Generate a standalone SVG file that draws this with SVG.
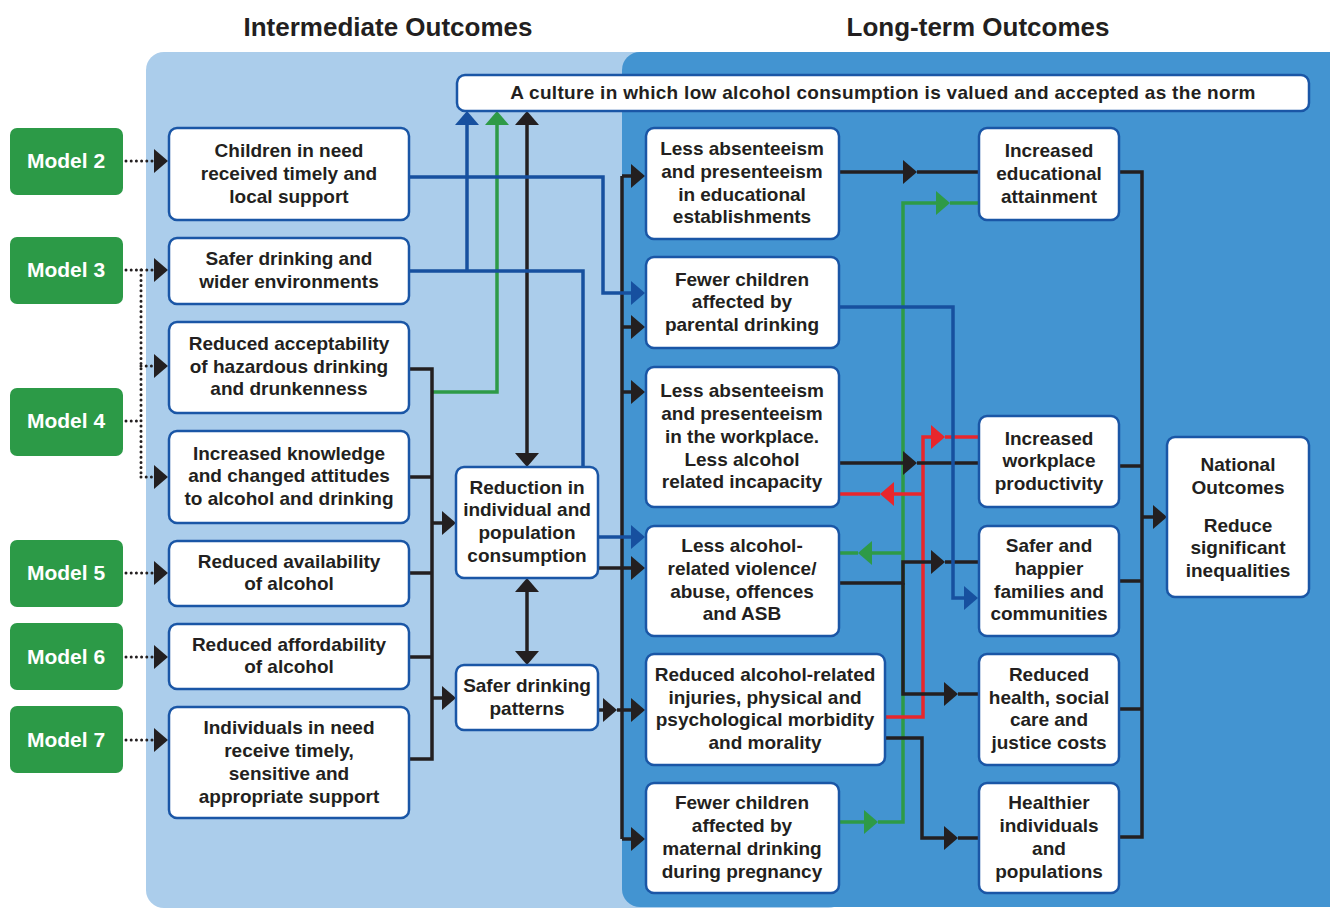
<svg xmlns="http://www.w3.org/2000/svg" width="1330" height="909" viewBox="0 0 1330 909">
<style>
.ttl{font-family:"Liberation Sans",Arial,sans-serif;font-weight:bold;font-size:26px;fill:#231f20;text-anchor:middle}
.mdl rect{fill:#2c9a47}
.mdl text{font-family:"Liberation Sans",Arial,sans-serif;font-weight:bold;font-size:21px;fill:#ffffff;text-anchor:middle}
.box rect{fill:#ffffff;stroke:#1a56a6;stroke-width:2.5}
.box text{font-family:"Liberation Sans",Arial,sans-serif;font-weight:bold;font-size:19px;fill:#231f20;text-anchor:middle}
.c{fill:none;stroke-width:3.5;stroke-linejoin:miter}
.k{stroke:#231f20}
.b{stroke:#17509f}
.g{stroke:#2e9a47}
.r{stroke:#e8262c}
.dot{fill:none;stroke:#231f20;stroke-width:3;stroke-linecap:round;stroke-dasharray:0 5.2}
.ak{marker-end:url(#mk)}
.ab{marker-end:url(#mb)}
.ag{marker-end:url(#mg)}
.ar{marker-end:url(#mr)}
</style>
<defs>
<marker id="mk" viewBox="0 0 14 24" refX="8" refY="12" markerWidth="14" markerHeight="24" markerUnits="userSpaceOnUse" orient="auto-start-reverse"><path d="M0,0 L14,12 L0,24 Z" fill="#231f20"/></marker>
<marker id="mb" viewBox="0 0 14 24" refX="8" refY="12" markerWidth="14" markerHeight="24" markerUnits="userSpaceOnUse" orient="auto"><path d="M0,0 L14,12 L0,24 Z" fill="#17509f"/></marker>
<marker id="mg" viewBox="0 0 14 24" refX="8" refY="12" markerWidth="14" markerHeight="24" markerUnits="userSpaceOnUse" orient="auto"><path d="M0,0 L14,12 L0,24 Z" fill="#2e9a47"/></marker>
<marker id="mr" viewBox="0 0 14 24" refX="8" refY="12" markerWidth="14" markerHeight="24" markerUnits="userSpaceOnUse" orient="auto"><path d="M0,0 L14,12 L0,24 Z" fill="#e8262c"/></marker>
</defs>

<g id="panels">
<rect x="146" y="52" width="700" height="856" rx="18" fill="#abcdeb"/>
<rect x="622" y="52" width="740" height="855" rx="18" fill="#4394d1"/>
</g>

<g id="titles">
<text class="ttl" x="388" y="36">Intermediate Outcomes</text>
<text class="ttl" x="978" y="36">Long-term Outcomes</text>
</g>

<g id="connectors">
<!-- dotted model links -->
<path class="dot" d="M126,161 H152"/>
<path class="dot" d="M126,270 H152 M141,270 V477"/>
<path class="dot" d="M126,421 H141 M141,366 H152 M141,477 H152"/>
<path class="dot" d="M126,573 H152"/>
<path class="dot" d="M126,657 H152"/>
<path class="dot" d="M126,740 H152"/>
<path class="c k ak" d="M154,161 H162"/>
<path class="c k ak" d="M154,270 H162"/>
<path class="c k ak" d="M154,366 H162"/>
<path class="c k ak" d="M154,477 H162"/>
<path class="c k ak" d="M154,573 H162"/>
<path class="c k ak" d="M154,657 H162"/>
<path class="c k ak" d="M154,740 H162"/>

<!-- green -->
<path class="c g ag" d="M432,392 H497 V117"/>
<path class="c g ag" d="M839,822 H872"/>
<path class="c g ag" d="M878,822 H903 V203 H944"/>
<path class="c g" d="M950,203 H978"/>
<path class="c g ag" d="M903,553 H864"/>
<path class="c g" d="M858,553 H840"/>

<!-- red -->
<path class="c r ar" d="M885,717 H923 V437 H939"/>
<path class="c r" d="M945,437 H978"/>
<path class="c r ar" d="M923,494 H886"/>
<path class="c r" d="M880,494 H840"/>

<!-- black -->
<path class="c k" d="M409,369 H432 V759 H409 M409,477 H432 M409,573 H432 M409,657 H432"/>
<path class="c k ak" d="M432,523 H450"/>
<path class="c k ak" d="M432,698 H450"/>
<path class="c k ak" d="M527,117 V461" marker-start="url(#mk)"/>
<path class="c k ak" d="M527,584 V659" marker-start="url(#mk)"/>
<path class="c k ak" d="M598,710 H611"/>
<path class="c k" d="M598,568 H622 M617,710 H622"/>
<path class="c k" d="M622,176 V839"/>
<path class="c k ak" d="M622,176 H639"/>
<path class="c k ak" d="M622,327 H639"/>
<path class="c k ak" d="M622,392 H639"/>
<path class="c k ak" d="M622,568 H639"/>
<path class="c k ak" d="M622,710 H639"/>
<path class="c k ak" d="M622,839 H639"/>
<path class="c k ak" d="M840,172 H911"/>
<path class="c k" d="M917,172 H978"/>
<path class="c k ak" d="M840,463 H911"/>
<path class="c k" d="M917,463 H978"/>
<path class="c k ak" d="M839,583 H903 V562 H939"/>
<path class="c k" d="M945,562 H978"/>
<path class="c k ak" d="M903,583 V694 H952"/>
<path class="c k" d="M958,694 H978"/>
<path class="c k ak" d="M885,738 H922 V838 H952"/>
<path class="c k" d="M958,838 H978"/>
<path class="c k" d="M1120,172 H1142 V837 H1120 M1120,466 H1142 M1120,581 H1142 M1120,709 H1142"/>
<path class="c k ak" d="M1142,517 H1161"/>

<!-- blue -->
<path class="c b ab" d="M409,177 H603 V293 H639"/>
<path class="c b" d="M409,271 H583 V467"/>
<path class="c b ab" d="M467,271 V117"/>
<path class="c b ab" d="M598,537 H639"/>
<path class="c b ab" d="M839,307 H953 V598 H972"/>
</g>

<g id="model2" class="mdl"><rect x="10" y="128" width="113" height="67" rx="7"/><text x="66" y="168">Model 2</text></g>
<g id="model3" class="mdl"><rect x="10" y="237" width="113" height="67" rx="7"/><text x="66" y="277">Model 3</text></g>
<g id="model4" class="mdl"><rect x="10" y="388" width="113" height="68" rx="7"/><text x="66" y="428">Model 4</text></g>
<g id="model5" class="mdl"><rect x="10" y="540" width="113" height="67" rx="7"/><text x="66" y="580">Model 5</text></g>
<g id="model6" class="mdl"><rect x="10" y="623" width="113" height="67" rx="7"/><text x="66" y="664">Model 6</text></g>
<g id="model7" class="mdl"><rect x="10" y="706" width="113" height="67" rx="7"/><text x="66" y="747">Model 7</text></g>

<g id="culture" class="box"><rect x="457" y="75" width="852" height="36" rx="8"/><text x="883" y="99" style="font-size:19px;letter-spacing:0.3px">A culture in which low alcohol consumption is valued and accepted as the norm</text></g>

<g id="children-need" class="box"><rect x="169" y="128" width="240" height="92" rx="8"/><text x="289" y="157">Children in need</text><text x="289" y="180">received timely and</text><text x="289" y="203">local support</text></g>
<g id="safer-env" class="box"><rect x="169" y="238" width="240" height="66" rx="8"/><text x="289" y="265">Safer drinking and</text><text x="289" y="288">wider environments</text></g>
<g id="acceptability" class="box"><rect x="169" y="322" width="240" height="91" rx="8"/><text x="289" y="350">Reduced acceptability</text><text x="289" y="373">of hazardous drinking</text><text x="289" y="395">and drunkenness</text></g>
<g id="knowledge" class="box"><rect x="169" y="431" width="240" height="92" rx="8"/><text x="289" y="460">Increased knowledge</text><text x="289" y="482">and changed attitudes</text><text x="289" y="505">to alcohol and drinking</text></g>
<g id="availability" class="box"><rect x="169" y="541" width="240" height="65" rx="8"/><text x="289" y="568">Reduced availability</text><text x="289" y="590">of alcohol</text></g>
<g id="affordability" class="box"><rect x="169" y="624" width="240" height="65" rx="8"/><text x="289" y="651">Reduced affordability</text><text x="289" y="673">of alcohol</text></g>
<g id="individuals-need" class="box"><rect x="169" y="707" width="240" height="111" rx="8"/><text x="289" y="734">Individuals in need</text><text x="289" y="757">receive timely,</text><text x="289" y="780">sensitive and</text><text x="289" y="803">appropriate support</text></g>

<g id="reduction" class="box"><rect x="456" y="467" width="142" height="111" rx="8"/><text x="527" y="494">Reduction in</text><text x="527" y="516">individual and</text><text x="527" y="539">population</text><text x="527" y="562">consumption</text></g>
<g id="safer-patterns" class="box"><rect x="456" y="665" width="142" height="65" rx="8"/><text x="527" y="692">Safer drinking</text><text x="527" y="715">patterns</text></g>

<g id="edu-absent" class="box"><rect x="646" y="128" width="193" height="111" rx="8"/><text x="742" y="155">Less absenteeism</text><text x="742" y="178">and presenteeism</text><text x="742" y="201">in educational</text><text x="742" y="223">establishments</text></g>
<g id="parental" class="box"><rect x="646" y="257" width="193" height="91" rx="8"/><text x="742" y="286">Fewer children</text><text x="742" y="308">affected by</text><text x="742" y="331">parental drinking</text></g>
<g id="work-absent" class="box"><rect x="646" y="367" width="193" height="140" rx="8"/><text x="742" y="397">Less absenteeism</text><text x="742" y="420">and presenteeism</text><text x="742" y="443">in the workplace.</text><text x="742" y="466">Less alcohol</text><text x="742" y="488">related incapacity</text></g>
<g id="violence" class="box"><rect x="646" y="526" width="193" height="110" rx="8"/><text x="742" y="552">Less alcohol-</text><text x="742" y="575">related violence/</text><text x="742" y="598">abuse, offences</text><text x="742" y="620">and ASB</text></g>
<g id="injuries" class="box"><rect x="646" y="654" width="239" height="111" rx="8"/><text x="765" y="681">Reduced alcohol-related</text><text x="765" y="704">injuries, physical and</text><text x="765" y="726">psychological morbidity</text><text x="765" y="749">and morality</text></g>
<g id="maternal" class="box"><rect x="646" y="783" width="193" height="110" rx="8"/><text x="742" y="809">Fewer children</text><text x="742" y="832">affected by</text><text x="742" y="855">maternal drinking</text><text x="742" y="878">during pregnancy</text></g>

<g id="edu-attain" class="box"><rect x="979" y="128" width="140" height="92" rx="8"/><text x="1049" y="157">Increased</text><text x="1049" y="180">educational</text><text x="1049" y="203">attainment</text></g>
<g id="productivity" class="box"><rect x="979" y="416" width="140" height="91" rx="8"/><text x="1049" y="445">Increased</text><text x="1049" y="467">workplace</text><text x="1049" y="490">productivity</text></g>
<g id="families" class="box"><rect x="979" y="526" width="140" height="110" rx="8"/><text x="1049" y="552">Safer and</text><text x="1049" y="575">happier</text><text x="1049" y="598">families and</text><text x="1049" y="620">communities</text></g>
<g id="costs" class="box"><rect x="979" y="654" width="140" height="111" rx="8"/><text x="1049" y="681">Reduced</text><text x="1049" y="704">health, social</text><text x="1049" y="726">care and</text><text x="1049" y="749">justice costs</text></g>
<g id="healthier" class="box"><rect x="979" y="783" width="140" height="110" rx="8"/><text x="1049" y="809">Healthier</text><text x="1049" y="832">individuals</text><text x="1049" y="855">and</text><text x="1049" y="878">populations</text></g>

<g id="national" class="box"><rect x="1167" y="437" width="142" height="160" rx="8"/><text x="1238" y="471">National</text><text x="1238" y="494">Outcomes</text><text x="1238" y="532">Reduce</text><text x="1238" y="554">significant</text><text x="1238" y="577">inequalities</text></g>
</svg>
